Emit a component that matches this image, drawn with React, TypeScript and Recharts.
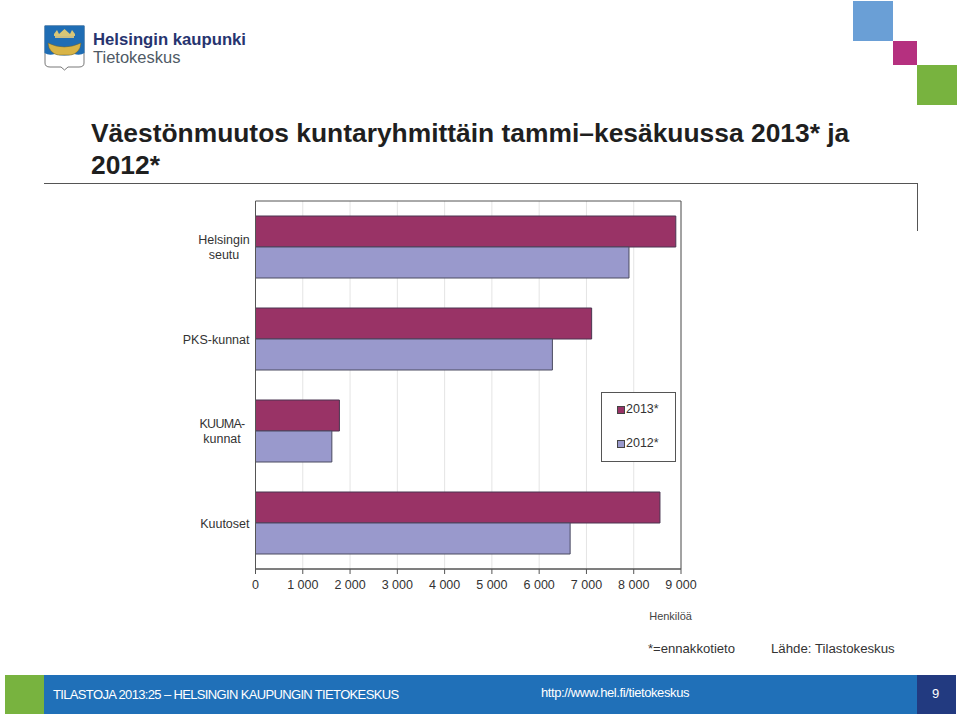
import { BarChart, Bar, XAxis, YAxis, CartesianGrid, Legend, ReferenceArea } from 'recharts';

const categories = ['Helsingin seutu', 'PKS-kunnat', 'KUUMA-kunnat', 'Kuutoset'];
const values2013 = [8890, 7110, 1775, 8555];
const values2012 = [7900, 6280, 1615, 6655];
const xTicks = [0, 1000, 2000, 3000, 4000, 5000, 6000, 7000, 8000, 9000];

const chartData = categories.map((name, i) => ({
  name,
  v2013: values2013[i],
  v2012: values2012[i],
}));

const FONT = '"Liberation Sans", Arial, sans-serif';

function CategoryTick({ x, y, payload }: any) {
  const value: string = payload.value;
  if (value === 'Helsingin seutu' || value === 'KUUMA-kunnat') {
    const lines = value === 'Helsingin seutu' ? ['Helsingin', 'seutu'] : ['KUUMA-', 'kunnat'];
    const cx = value === 'Helsingin seutu' ? x - 25.5 : x - 27.5;
    return (
      <text x={cx} y={y} textAnchor="middle" fontSize={12.5} fontFamily={FONT} fill="#333">
        <tspan x={cx} dy={-3} letterSpacing={value === 'KUUMA-kunnat' ? -0.7 : 0}>{lines[0]}</tspan>
        <tspan x={cx} dy={14.5}>{lines[1]}</tspan>
      </text>
    );
  }
  return (
    <text x={x} y={y} dy={4.5} textAnchor="end" fontSize={12.5} fontFamily={FONT} fill="#333">
      {value}
    </text>
  );
}

function LegendBox({ payload }: any) {
  return (
    <div
      style={{
        width: 73,
        height: 68,
        border: '1px solid #555',
        background: '#fff',
        boxSizing: 'content-box',
        fontFamily: FONT,
        fontSize: 12.5,
        color: '#333',
      }}
    >
      {(payload || []).map((p: any, i: number) => (
        <div
          key={p.value}
          style={{ position: 'absolute', left: 16, top: i === 0 ? 10 : 44, display: 'flex', alignItems: 'center', lineHeight: '15px' }}
        >
          <span style={{ width: 6, height: 6, background: p.color, border: '1px solid #444', marginRight: 1 }} />
          {p.value}
        </div>
      ))}
    </div>
  );
}

function box(left: number, top: number, width: number, height: number, background: string) {
  return <div style={{ position: 'absolute', left, top, width, height, background }} />;
}

function label(left: number, top: number, text: string, fontSize: number, color: string, extra: any = {}) {
  return (
    <div style={{ position: 'absolute', left, top, fontSize, color, fontFamily: FONT, whiteSpace: 'nowrap', lineHeight: 1.15, ...extra }}>
      {text}
    </div>
  );
}

function Logo() {
  return (
    <svg style={{ position: 'absolute', left: 44, top: 25 }} width={42} height={46} viewBox="0 0 42 46">
      <path d="M1 1 H40 V38 Q40 42 35 42 H24 L20.500 45 L17 42 H6 Q1 42 1 38 Z" fill="#fff" stroke="#555" strokeWidth={0.8} />
      <path d="M0.500 0.500 H40.500 V28 Q36 31 30 29 Q20 32 11 29 Q5 31 0.500 28 Z" fill="#1f6db4" />
      <path d="M4 18 Q20 26 37 18 Q36 28 27 30 H14 Q5 28 4 18 Z" fill="#d8b447" stroke="#7a6420" strokeWidth={0.5} />
      <rect x="11" y="10" width="19" height="3" fill="#c9bd84" />
      <path d="M10 9 L13 5 L15 9 L20.500 4 L26 9 L28 5 L31 9 V11 H10 Z" fill="#d8c676" />
    </svg>
  );
}

export default function App() {
  return (
    <div style={{ position: 'absolute', left: 0, top: 0, width: 960, height: 716, background: '#fff', overflow: 'hidden' }}>
      <Logo />
      {label(93, 30, 'Helsingin kaupunki', 16.7, '#27346f', { fontWeight: 700 })}
      {label(93, 48, 'Tietokeskus', 16.5, '#4f5a66')}

      {box(853, 1, 40, 40, '#6a9fd6')}
      {box(893, 41, 24, 24, '#b5307f')}
      {box(917, 65, 40, 40, '#78b33f')}

      <div style={{ position: 'absolute', left: 91, top: 117, fontFamily: FONT, fontWeight: 700, fontSize: 26.4, lineHeight: '32px', color: '#1f1f1f', whiteSpace: 'nowrap' }}>
        Väestönmuutos kuntaryhmittäin tammi–kesäkuussa 2013* ja
        <br />
        2012*
      </div>

      {box(44, 183, 874, 1, '#555')}
      {box(917, 183, 1, 48, '#555')}

      <div style={{ position: 'absolute', left: 0, top: 0 }}>
        <BarChart
          width={960}
          height={716}
          data={chartData}
          layout="vertical"
          margin={{ top: 201, right: 279, bottom: 96, left: 155.5 }}
          barSize={31}
          barGap={0}
        >
          <CartesianGrid horizontal={false} stroke="#e4e4e4" />
          <XAxis
            type="number"
            domain={[0, 9000]}
            ticks={xTicks}
            interval={0}
            height={51}
            stroke="#555"
            tickSize={5}
            tickMargin={6}
            tick={{ fontSize: 12.5, fontFamily: FONT, fill: '#333' }}
            tickFormatter={(v: number) => (v === 0 ? '0' : `${v / 1000} 000`)}
            label={{ value: 'Henkilöä', position: 'insideBottomRight', offset: 0, dx: 11, fontSize: 11, fontFamily: FONT, fill: '#444' }}
          />
          <YAxis
            type="category"
            dataKey="name"
            width={100}
            stroke="#555"
            tickLine={false}
            tickMargin={0}
            interval={0}
            tick={<CategoryTick />}
          />
          <ReferenceArea x1={0} x2={9000} fill="none" stroke="#555" strokeWidth={1} ifOverflow="visible" />
          <Legend
            layout="vertical"
            align="center"
            verticalAlign="middle"
            itemSorter={null}
            content={<LegendBox />}
            wrapperStyle={{ position: 'absolute', left: 601, top: 392, width: 75, height: 70 }}
          />
          <Bar dataKey="v2013" name="2013*" fill="#993366" stroke="#4a3550" isAnimationActive={false} />
          <Bar dataKey="v2012" name="2012*" fill="#9999cc" stroke="#4a4a60" isAnimationActive={false} />
        </BarChart>
      </div>

      {label(648, 641, '*=ennakkotieto', 13.1, '#333')}
      {label(771, 641, 'Lähde: Tilastokeskus', 13.25, '#333')}

      {box(5, 675, 39, 39, '#78b33f')}
      {box(44, 675, 873, 39, '#2070b8')}
      {box(917, 675, 39, 39, '#223a80')}
      {label(53, 688, 'TILASTOJA 2013:25 – HELSINGIN KAUPUNGIN TIETOKESKUS', 13, '#fff', { letterSpacing: -0.65 })}
      {label(541, 686, 'http://www.hel.fi/tietokeskus', 13, '#fff', { letterSpacing: -0.4 })}
      {label(932, 687, '9', 13, '#fff')}
    </div>
  );
}
